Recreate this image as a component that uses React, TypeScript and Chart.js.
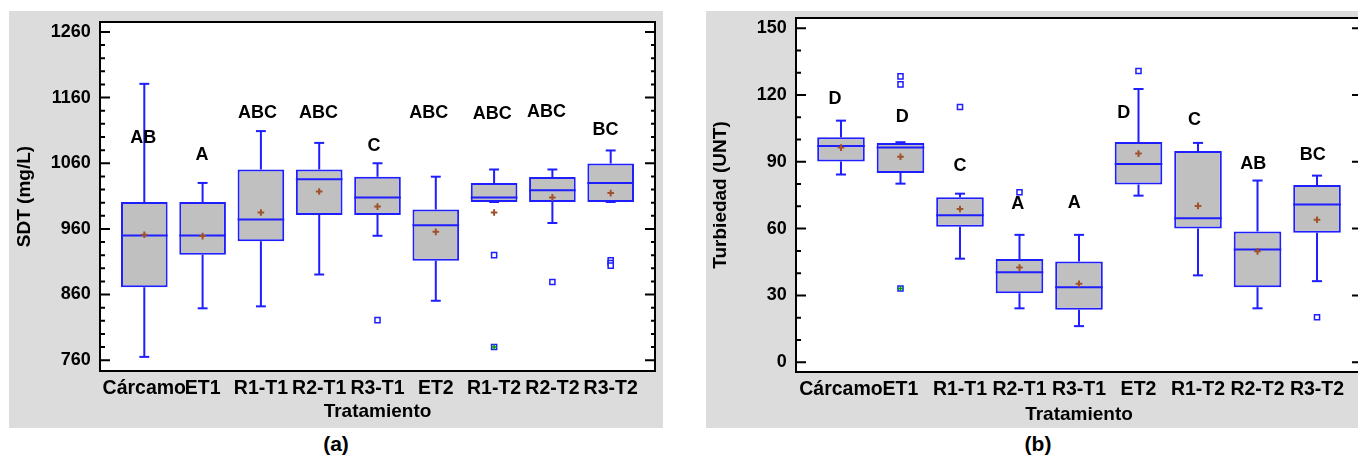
import React, { useEffect, useRef } from 'react';
import { Chart, registerables } from 'chart.js';

Chart.register(...registerables);

const FONT = "'Liberation Sans', Arial, Helvetica, sans-serif";
const BLUE = '#1e1eff';
const BOXFILL = '#c0c0c0';
const BROWN = '#a0522d';
const GREEN = '#00a000';
const PANEL_BG = '#dcdcdc';

// ---------- shared categories ----------
const categories = ['Cárcamo', 'ET1', 'R1-T1', 'R2-T1', 'R3-T1', 'ET2', 'R1-T2', 'R2-T2', 'R3-T2'];

// ---------- panel (a): SDT (mg/L) ----------
const sdtMin = [765, 839, 842, 890.5, 949.5, 850.5, 1001, 969, 1001];
const sdtQ1 = [871, 920.5, 941, 981, 981, 911.5, 1001, 1001, 1001];
const sdtMedian = [950, 950, 974.5, 1035.5, 1008, 965.5, 1008, 1019, 1030];
const sdtQ3 = [1001, 1001, 1050.5, 1050.5, 1039.5, 989.5, 1030, 1039, 1059.5];
const sdtMax = [1181, 1030, 1109, 1091, 1060, 1039.5, 1050.5, 1050.5, 1079.5];
const sdtMean = [951, 949, 985, 1017, 994, 955.5, 985, 1008, 1014.5];
const sdtOutlierCat = [5, 7, 8, 9, 9, 9];
const sdtOutlierVal = [821, 920, 879, 912, 908, 904];
const sdtFarCat = [7];
const sdtFarVal = [780];
const sdtLetters = ['AB', 'A', 'ABC', 'ABC', 'C', 'ABC', 'ABC', 'ABC', 'BC'];
const sdtLetterX = [0.98, 1.99, 2.94, 3.99, 4.94, 5.88, 6.97, 7.9, 8.91];
const sdtLetterY = [1099, 1073, 1136, 1137, 1087, 1136.5, 1134.5, 1138, 1110];
const sdtTickLabels = [760, 860, 960, 1060, 1160, 1260];

// ---------- panel (b): Turbiedad (UNT) ----------
const turMin = [84.3, 80.2, 46.5, 24.2, 16.2, 74.8, 39, 24.2, 36.4];
const turQ1 = [90.2, 85, 60.8, 31, 23.6, 79.8, 60, 33.7, 58.1];
const turMedian = [97.1, 96.4, 66, 40.4, 33.7, 89, 64.7, 50.6, 70.8];
const turQ3 = [101, 98.5, 74.1, 46.4, 45.2, 98.9, 94.9, 58.7, 79.6];
const turMax = [108.5, 98.8, 75.7, 57.2, 57.2, 122.7, 98.5, 81.6, 83.8];
const turMean = [96.4, 92.3, 68.8, 42.5, 35.2, 93.7, 70.2, 49.8, 64];
const turOutlierCat = [2, 2, 3, 4, 6, 9];
const turOutlierVal = [128.4, 124.8, 114.6, 76.3, 130.8, 20.2];
const turFarCat = [2];
const turFarVal = [33.1];
const turLetters = ['D', 'D', 'C', 'A', 'A', 'D', 'C', 'AB', 'BC'];
const turLetterX = [0.9, 2.03, 3.0, 3.97, 4.92, 5.75, 6.94, 7.93, 8.93];
const turLetterY = [118.4, 109.9, 88.3, 71.1, 71.4, 111.8, 108.8, 88.9, 93.1];
const turTickLabels = [0, 30, 60, 90, 120, 150];

type PanelSpec = {
  min: number[]; q1: number[]; med: number[]; q3: number[]; max: number[]; mean: number[];
  outCat: number[]; outVal: number[]; farCat: number[]; farVal: number[];
  letters: string[]; letterX: number[]; letterY: number[];
  tickLabels: number[]; step: number; yMin: number; yMax: number; yTitle: string;
  xMin: number; xMax: number;
  padTop: number; padRight: number; yWidth: number; xHeight: number;
  xTickPad: number; xTitlePad: number; yTitlePad: number;
};

const panelA: PanelSpec = {
  min: sdtMin, q1: sdtQ1, med: sdtMedian, q3: sdtQ3, max: sdtMax, mean: sdtMean,
  outCat: sdtOutlierCat, outVal: sdtOutlierVal, farCat: sdtFarCat, farVal: sdtFarVal,
  letters: sdtLetters, letterX: sdtLetterX, letterY: sdtLetterY,
  tickLabels: sdtTickLabels, step: 20, yMin: 743.5, yMax: 1275.2, yTitle: 'SDT (mg/L)',
  xMin: 0.24, xMax: 9.76,
  padTop: 11, padRight: 8, yWidth: 91, xHeight: 57,
  xTickPad: 5.6, xTitlePad: 4.6, yTitlePad: 4.6,
};

const panelB: PanelSpec = {
  min: turMin, q1: turQ1, med: turMedian, q3: turQ3, max: turMax, mean: turMean,
  outCat: turOutlierCat, outVal: turOutlierVal, farCat: turFarCat, farVal: turFarVal,
  letters: turLetters, letterX: turLetterX, letterY: turLetterY,
  tickLabels: turTickLabels, step: 10, yMin: -4.4, yMax: 154.6, yTitle: 'Turbiedad (UNT)',
  xMin: 0.244, xMax: 9.756,
  padTop: 7, padRight: 16, yWidth: 90, xHeight: 56,
  xTickPad: 6.2, xTitlePad: 2.1, yTitlePad: 3.6,
};

function makeDecor(p: PanelSpec) {
  return {
    id: 'decor',
    beforeDraw(chart: any) {
      const { ctx, chartArea } = chart;
      ctx.save();
      ctx.fillStyle = '#ffffff';
      ctx.fillRect(chartArea.left, chartArea.top, chartArea.right - chartArea.left, chartArea.bottom - chartArea.top);
      ctx.restore();
    },
    afterDatasetsDraw(chart: any) {
      const { ctx } = chart;
      const xs = chart.scales.x;
      const ys = chart.scales.y;
      ctx.save();
      ctx.font = `bold 18px ${FONT}`;
      ctx.fillStyle = '#000';
      ctx.textAlign = 'center';
      ctx.textBaseline = 'middle';
      p.letters.forEach((l, i) => {
        ctx.fillText(l, xs.getPixelForValue(p.letterX[i]), ys.getPixelForValue(p.letterY[i]));
      });
      ctx.restore();
    },
    afterDraw(chart: any) {
      const { ctx, chartArea } = chart;
      const { left, right, top, bottom } = chartArea;
      const ys = chart.scales.y;
      ctx.save();
      ctx.strokeStyle = '#000';
      ctx.lineWidth = 2;
      ctx.beginPath();
      ys.ticks.forEach((t: any) => {
        const py = ys.getPixelForValue(t.value);
        const major = p.tickLabels.some((v) => Math.abs(v - t.value) < 1e-6);
        const lenL = major ? 10 : 5;
        const lenR = major ? 10 : 4;
        ctx.moveTo(left, py);
        ctx.lineTo(left + lenL, py);
        ctx.moveTo(right, py);
        ctx.lineTo(right - lenR, py);
      });
      ctx.stroke();
      ctx.strokeRect(left, top, right - left, bottom - top);
      ctx.restore();
    },
  };
}

function buildConfig(p: PanelSpec): any {
  const pos = categories.map((_, i) => i + 1);
  const halfPx = (c: any, u: number) => {
    const s = c.chart.scales.x;
    return Math.abs(s.getPixelForValue(1 + u) - s.getPixelForValue(1));
  };
  const far = p.farCat.map((x, i) => ({ x, y: p.farVal[i] }));
  const outliers = p.outCat.map((x, i) => ({ x, y: p.outVal[i] })).concat(far);
  const tickFont = { family: FONT, size: 18, weight: 'bold' as const, lineHeight: 0.5 };
  const catFont = { family: FONT, size: 19.5, weight: 'bold' as const };
  const titleFont = { family: FONT, size: 19, weight: 'bold' as const, lineHeight: 1.2 };

  return {
    type: 'bar',
    data: {
      datasets: [
        {
          type: 'bar',
          label: 'box',
          data: pos.map((x, i) => ({ x, y: [p.q1[i], p.q3[i]] })),
          backgroundColor: BOXFILL,
          borderColor: BLUE,
          borderWidth: 2,
          borderSkipped: false,
          categoryPercentage: 0.8,
          barPercentage: 1,
          order: 6,
        },
        {
          type: 'line',
          label: 'whisker',
          data: pos.flatMap((x, i) => [
            { x, y: p.min[i] }, { x, y: p.q1[i] }, { x, y: null },
            { x, y: p.q3[i] }, { x, y: p.max[i] }, { x, y: null },
          ]),
          borderColor: BLUE,
          borderWidth: 2,
          pointRadius: 0,
          fill: false,
          spanGaps: false,
          tension: 0,
          order: 5,
        },
        {
          type: 'scatter',
          label: 'caps',
          data: pos.flatMap((x, i) => [{ x, y: p.min[i] }, { x, y: p.max[i] }]),
          pointStyle: 'line',
          pointRadius: (c: any) => halfPx(c, 0.085),
          pointBorderColor: BLUE,
          pointBorderWidth: 2,
          order: 4,
        },
        {
          type: 'scatter',
          label: 'median',
          data: pos.map((x, i) => ({ x, y: p.med[i] })),
          pointStyle: 'line',
          pointRadius: (c: any) => halfPx(c, 0.4),
          pointBorderColor: BLUE,
          pointBorderWidth: 2,
          order: 3,
        },
        {
          type: 'scatter',
          label: 'outliers',
          data: outliers,
          pointStyle: 'rect',
          pointRadius: 3.6,
          pointBackgroundColor: '#ffffff',
          pointBorderColor: BLUE,
          pointBorderWidth: 1.5,
          order: 2,
        },
        {
          type: 'scatter',
          label: 'mean',
          data: pos.map((x, i) => ({ x, y: p.mean[i] })),
          pointStyle: 'cross',
          pointRadius: 3.3,
          pointBorderColor: BROWN,
          pointBorderWidth: 2,
          order: 1,
        },
        {
          type: 'scatter',
          label: 'far',
          data: far,
          pointStyle: 'cross',
          pointRadius: 2.6,
          pointBorderColor: GREEN,
          pointBorderWidth: 1.5,
          order: 0,
        },
      ],
    },
    options: {
      responsive: false,
      animation: false,
      events: [],
      layout: { padding: { top: p.padTop, right: p.padRight, left: 0, bottom: 0 } },
      plugins: { legend: { display: false }, tooltip: { enabled: false } },
      scales: {
        x: {
          type: 'linear',
          offset: false,
          min: p.xMin,
          max: p.xMax,
          afterBuildTicks: (s: any) => {
            s.ticks = pos.map((v) => ({ value: v }));
          },
          afterFit: (s: any) => {
            s.height = p.xHeight;
          },
          ticks: {
            callback: (v: any) => categories[Math.round(v) - 1] ?? '',
            autoSkip: false,
            maxRotation: 0,
            minRotation: 0,
            color: '#000',
            font: catFont,
            padding: p.xTickPad,
          },
          grid: { display: false, drawTicks: false, offset: false },
          border: { display: false },
          title: {
            display: true,
            text: 'Tratamiento',
            color: '#000',
            font: titleFont,
            padding: { top: 0, bottom: p.xTitlePad },
          },
        },
        y: {
          type: 'linear',
          min: p.yMin,
          max: p.yMax,
          afterFit: (s: any) => {
            s.width = p.yWidth;
          },
          ticks: {
            stepSize: p.step,
            includeBounds: false,
            autoSkip: false,
            callback: (v: any) => (p.tickLabels.some((t) => Math.abs(t - v) < 1e-6) ? String(Math.round(v)) : ''),
            color: '#000',
            font: tickFont,
            padding: 0,
          },
          grid: { display: false, drawTicks: true, tickLength: 9.3 },
          border: { display: false },
          title: {
            display: true,
            text: p.yTitle,
            color: '#000',
            font: titleFont,
            padding: { top: p.yTitlePad, bottom: 0 },
          },
        },
      },
    },
    plugins: [makeDecor(p)],
  };
}

function BoxPanel(props: { spec: PanelSpec; left: number; top: number; width: number; height: number }) {
  const ref = useRef<HTMLCanvasElement | null>(null);
  useEffect(() => {
    if (!ref.current) return;
    const chart = new Chart(ref.current, buildConfig(props.spec));
    return () => chart.destroy();
  }, []);
  return (
    <canvas
      ref={ref}
      width={props.width}
      height={props.height}
      style={{
        position: 'absolute',
        left: props.left,
        top: props.top,
        width: props.width,
        height: props.height,
        background: PANEL_BG,
        display: 'block',
      }}
    />
  );
}

const captionStyle = (cx: number): React.CSSProperties => ({
  position: 'absolute',
  left: cx - 50,
  width: 100,
  top: 432,
  height: 24,
  lineHeight: '24px',
  textAlign: 'center',
  fontFamily: FONT,
  fontWeight: 'bold',
  fontSize: 21,
  color: '#000',
});

export default function App() {
  return (
    <div
      style={{
        position: 'fixed',
        left: 0,
        top: 0,
        width: 1358,
        height: 457,
        overflow: 'hidden',
        background: '#ffffff',
      }}
    >
      <BoxPanel spec={panelA} left={9} top={11} width={654} height={417} />
      <BoxPanel spec={panelB} left={706} top={11} width={672} height={417} />
      <div style={captionStyle(336)}>(a)</div>
      <div style={captionStyle(1038)}>(b)</div>
    </div>
  );
}
